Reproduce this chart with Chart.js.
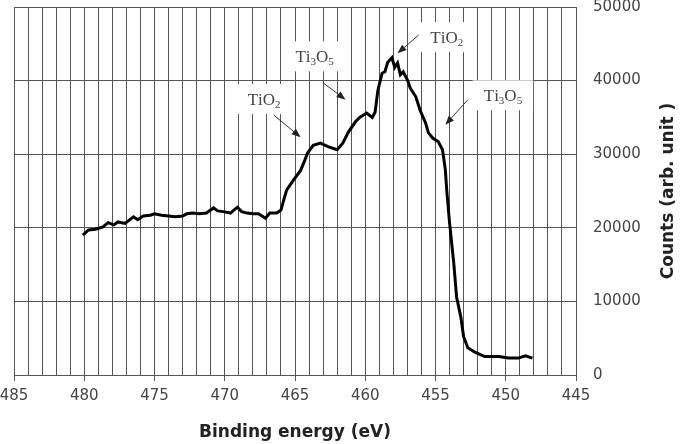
<!DOCTYPE html>
<html>
<head>
<meta charset="utf-8">
<script src="https://cdn.jsdelivr.net/npm/chart.js@4.4.1/dist/chart.umd.min.js"></script>
<style>
  html, body { margin: 0; padding: 0; background: #fff; }
  #wrap { width: 683px; height: 444px; }
</style>
</head>
<body>
<div id="wrap"><canvas id="chart-xps" width="683" height="444"></canvas></div>
<script>
// Ti 2p XPS spectrum
const energy = [480.1, 479.7, 479.2, 478.7, 478.3, 477.9, 477.6, 477.1, 476.5, 476.2,
  475.8, 475.3, 475.0, 474.5, 474.0, 473.5, 473.0, 472.7, 472.3, 471.8,
  471.3, 470.8, 470.5, 470.1, 469.6, 469.1, 468.8, 468.4, 468.0, 467.6,
  467.1, 466.8, 466.3, 466.0, 465.8, 465.6, 465.1, 464.6, 464.3, 464.1,
  463.7, 463.2, 462.6, 462.0, 461.6, 461.2, 460.7, 460.4, 459.9, 459.5,
  459.3, 459.1, 458.8, 458.6, 458.4, 458.1, 457.9, 457.7, 457.5, 457.3,
  457.0, 456.8, 456.4, 456.1, 455.7, 455.5, 455.2, 454.8, 454.5, 454.3,
  454.2, 454.0, 453.7, 453.5, 453.2, 453.0, 452.7, 452.2, 451.5, 450.5,
  449.8, 449.1, 448.6, 448.1];
const counts = [19000, 19700, 19800, 20100, 20700, 20400, 20800, 20600, 21500, 21100,
  21600, 21700, 21900, 21700, 21600, 21500, 21600, 21900, 22000, 21900,
  22000, 22700, 22300, 22200, 22000, 22800, 22200, 22000, 21900, 21900,
  21300, 22000, 22000, 22400, 23800, 25100, 26500, 27800, 29200, 30200,
  31200, 31500, 31000, 30600, 31500, 33000, 34400, 35000, 35600, 35000,
  35700, 38700, 41000, 41200, 42500, 43100, 41800, 42400, 40800, 41200,
  40100, 39000, 37800, 36000, 34200, 32900, 32200, 31700, 30600, 27900,
  25100, 20700, 15200, 10600, 7900, 5200, 3700, 3100, 2500, 2500,
  2300, 2300, 2600, 2300];

const xLabels = [485, 480, 475, 470, 465, 460, 455, 450, 445];
const yTicks = [0, 10000, 20000, 30000, 40000, 50000];

// peak labels: text ('_' marks a subscript digit), label centre, arrow start, arrow tip
const noteText = ['TiO_2', 'Ti_3O_5', 'TiO_2', 'Ti_3O_5'];
const noteAt = [[467.2, 37500], [463.6, 43300], [454.2, 45900], [450.2, 38000]];
const noteFrom = [[466.5, 35300], [463.0, 39700], [456.2, 46200], [452.7, 37400]];
const noteTo = [[464.6, 32300], [461.4, 37400], [457.7, 43700], [454.3, 34000]];

function splitSub(str) {
  const parts = [];
  for (let i = 0; i < str.length; i++) {
    if (str[i] === '_') { parts.push([str[i + 1], true]); i++; }
    else parts.push([str[i], false]);
  }
  return parts;
}

const notesPlugin = {
  id: 'notes',
  afterDraw(chart) {
    const { ctx, scales: { x, y } } = chart;
    ctx.save();
    noteText.forEach((txt, i) => {
      const parts = splitSub(txt);
      const big = '17px "Liberation Serif"';
      const small = '11px "Liberation Serif"';
      let w = 0;
      parts.forEach(([s, sub]) => { ctx.font = sub ? small : big; w += ctx.measureText(s).width; });
      const cx = x.getPixelForValue(noteAt[i][0]);
      const cy = y.getPixelForValue(noteAt[i][1]);
      ctx.fillStyle = '#fff';
      ctx.fillRect(cx - w / 2 - 11, cy - 15, w + 22, 30);
      ctx.fillStyle = '#444';
      ctx.textBaseline = 'alphabetic';
      ctx.textAlign = 'left';
      let px = cx - w / 2;
      parts.forEach(([s, sub]) => {
        ctx.font = sub ? small : big;
        ctx.fillText(s, px, cy + (sub ? 9 : 6));
        px += ctx.measureText(s).width;
      });

      // arrow
      const x1 = x.getPixelForValue(noteFrom[i][0]), y1 = y.getPixelForValue(noteFrom[i][1]);
      const x2 = x.getPixelForValue(noteTo[i][0]), y2 = y.getPixelForValue(noteTo[i][1]);
      const a = Math.atan2(y2 - y1, x2 - x1);
      ctx.strokeStyle = '#333';
      ctx.fillStyle = '#222';
      ctx.lineWidth = 1;
      ctx.beginPath();
      ctx.moveTo(x1, y1);
      ctx.lineTo(x2 - 6 * Math.cos(a), y2 - 6 * Math.sin(a));
      ctx.stroke();
      ctx.beginPath();
      ctx.moveTo(x2, y2);
      ctx.lineTo(x2 - 9 * Math.cos(a) + 3.5 * Math.sin(a), y2 - 9 * Math.sin(a) - 3.5 * Math.cos(a));
      ctx.lineTo(x2 - 9 * Math.cos(a) - 3.5 * Math.sin(a), y2 - 9 * Math.sin(a) + 3.5 * Math.cos(a));
      ctx.closePath();
      ctx.fill();
    });

    // y title on the right, reading bottom to top
    const area = chart.chartArea;
    ctx.translate(669, (area.top + area.bottom) / 2);
    ctx.rotate(-Math.PI / 2);
    ctx.font = 'bold 17px "DejaVu Sans"';
    ctx.fillStyle = '#222';
    ctx.textAlign = 'center';
    ctx.textBaseline = 'middle';
    ctx.fillText('Counts (arb. unit )', 0, 0);
    ctx.restore();
  }
};

const tickFont = { family: 'DejaVu Sans', size: 15 };

new Chart(document.getElementById('chart-xps').getContext('2d'), {
  type: 'line',
  data: {
    datasets: [{
      data: energy.map((e, i) => ({ x: e, y: counts[i] })),
      borderColor: '#000',
      borderWidth: 3,
      pointRadius: 0,
      tension: 0,
      fill: false
    }]
  },
  options: {
    responsive: false,
    animation: false,
    devicePixelRatio: 1,
    layout: { padding: { left: 14, top: 7, right: 0, bottom: 0 } },
    plugins: { legend: { display: false }, tooltip: { enabled: false } },
    scales: {
      x: {
        type: 'linear',
        min: 445,
        max: 485,
        reverse: true,
        ticks: {
          stepSize: 1,
          autoSkip: false,
          maxRotation: 0,
          color: '#444',
          font: tickFont,
          padding: 6,
          callback: v => xLabels.includes(v) ? String(v) : ''
        },
        grid: {
          color: '#555',
          lineWidth: 1,
          tickLength: 6,
          tickColor: c => xLabels.includes(c.tick.value) ? '#555' : 'rgba(0,0,0,0)'
        },
        border: { color: '#555' },
        title: {
          display: true,
          text: 'Binding energy (eV)',
          color: '#222',
          font: { family: 'DejaVu Sans', size: 17, weight: 'bold' },
          padding: { top: 4, bottom: 1 }
        },
        afterFit: s => { s.height = 69; s.paddingLeft = 0; s.paddingRight = 0; }
      },
      y: {
        position: 'right',
        min: 0,
        max: 50000,
        afterBuildTicks: s => { s.ticks = yTicks.map(v => ({ value: v })); },
        ticks: { color: '#444', font: tickFont, padding: 17, callback: v => String(v) },
        grid: { color: '#555', lineWidth: 1, drawTicks: false },
        border: { color: '#555' },
        afterFit: s => { s.width = 107; s.paddingTop = 0; s.paddingBottom = 0; }
      }
    }
  },
  plugins: [notesPlugin]
});
</script>
</body>
</html>
